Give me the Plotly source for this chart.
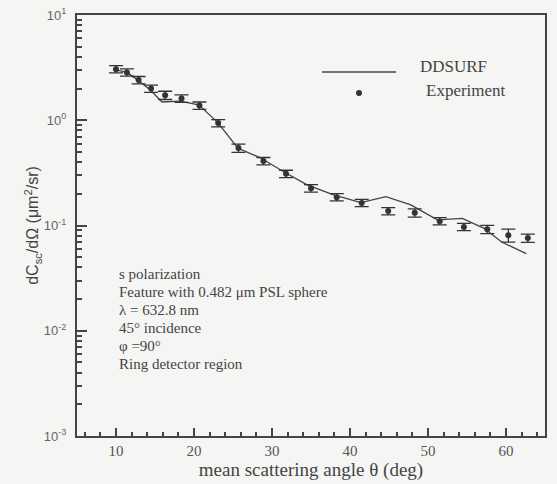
import plotly.graph_objects as go

# DDSURF model curve
theta_model = [9.6, 11.4, 12.8, 14.4, 15.9, 18.2, 20.6, 23.0, 25.6, 28.5, 31.5, 34.5,
               37.9, 41.4, 44.6, 47.8, 51.2, 54.4, 57.2, 59.4, 62.6]
dcs_model = [3.06, 2.85, 2.41, 1.94, 1.49, 1.52, 1.40, 0.96, 0.545, 0.44, 0.324, 0.243,
             0.195, 0.165, 0.188, 0.157, 0.113, 0.117, 0.094, 0.070, 0.054]

# Experiment
theta_exp = [10.0, 11.4, 12.9, 14.5, 16.3, 18.4, 20.7, 23.1, 25.7, 28.9, 31.8, 35.0,
             38.3, 41.5, 44.9, 48.3, 51.5, 54.6, 57.6, 60.3, 62.8]
dcs_exp = [3.06, 2.85, 2.41, 2.0, 1.73, 1.61, 1.38, 0.94, 0.545, 0.41, 0.31, 0.226,
           0.186, 0.164, 0.137, 0.132, 0.110, 0.097, 0.092, 0.081, 0.076]
err_pct = [8, 8, 8, 8, 9, 8, 8, 8, 9, 8, 8, 8, 8, 8, 8, 9, 8, 8, 9, 14, 9]

x_ticks = [10, 20, 30, 40, 50, 60]
y_tickvals = [0.001, 0.01, 0.1, 1, 10]
y_ticktext = ["10<sup>-3</sup>", "10<sup>-2</sup>", "10<sup>-1</sup>", "10<sup>0</sup>", "10<sup>1</sup>"]
y_minor = [m * d for d in [0.001, 0.01, 0.1, 1] for m in range(2, 10)]

info_lines = ["s polarization", "Feature with 0.482 μm PSL sphere", "λ = 632.8 nm",
              "45° incidence", "φ =90°", "Ring detector region"]

SERIF = "Liberation Serif, Times New Roman, serif"
SANS = "Liberation Sans, Arial, sans-serif"
INK = "#444444"
BG = "#f5f5f3"

fig = go.Figure()
fig.add_trace(go.Scatter(x=theta_model, y=dcs_model, mode="lines",
                         line=dict(color="#444444", width=1.3), name="DDSURF",
                         showlegend=False))
fig.add_trace(go.Scatter(x=theta_exp, y=dcs_exp, mode="markers",
                         marker=dict(color="#333333", size=6),
                         error_y=dict(type="data",
                                      array=[d * p / 100 for d, p in zip(dcs_exp, err_pct)],
                                      symmetric=True, visible=True,
                                      color="#333333", thickness=1.3, width=7),
                         name="Experiment", showlegend=False))

axis_common = dict(showline=True, linecolor=INK, linewidth=2, mirror=True,
                   showgrid=False, zeroline=False, ticks="inside", automargin=False,
                   tickcolor=INK)

fig.update_xaxes(range=[5, 65], tickvals=x_ticks, ticklen=8, tickwidth=1.5,
                 minor=dict(ticks="inside", dtick=2, tick0=0, ticklen=4, tickcolor=INK),
                 ticklabelstandoff=0,
                 tickfont=dict(family=SERIF, size=15, color="#555555"),
                 title=dict(text="mean scattering angle θ (deg)",
                            font=dict(family=SERIF, size=19, color=INK), standoff=0),
                 **axis_common)
fig.update_yaxes(type="log", range=[-3, 1], tickvals=y_tickvals, ticktext=y_ticktext,
                 ticklen=10, tickwidth=1.5,
                 minor=dict(ticks="inside", tickvals=y_minor, ticklen=5, tickcolor=INK),
                 ticklabelstandoff=6,
                 tickfont=dict(family=SANS, size=13, color="#666666"),
                 title=dict(text="dC<sub>sc</sub>/dΩ (μm<sup>2</sup>/sr)",
                            font=dict(family=SANS, size=16, color=INK), standoff=0),
                 **axis_common)

# Legend (drawn manually to match the original layout)
fig.add_shape(type="line", xref="paper", yref="paper", x0=0.5235, x1=0.6816,
              y0=0.8646, y1=0.8646, line=dict(color="#444444", width=1.3))
fig.add_annotation(xref="paper", yref="paper", x=0.728, y=0.8765, text="DDSURF",
                   showarrow=False, xanchor="left", yanchor="middle",
                   font=dict(family=SERIF, size=17, color=INK))
fig.add_shape(type="circle", xref="paper", yref="paper", x0=0.6026 - 0.0064, x1=0.6026 + 0.0064,
              y0=0.8147 - 0.0071, y1=0.8147 + 0.0071, fillcolor="#333333",
              line=dict(color="#333333", width=0))
fig.add_annotation(xref="paper", yref="paper", x=0.741, y=0.8195, text="Experiment",
                   showarrow=False, xanchor="left", yanchor="middle",
                   font=dict(family=SERIF, size=17, color=INK))

# Info text block
y_px = [273.7, 292.0, 310.0, 328.0, 346.0, 364.0]
for line, yp in zip(info_lines, y_px):
    fig.add_annotation(xref="paper", yref="paper", x=(117 - 77) / 468, y=1 - (yp - 15) / 421,
                       text=line, showarrow=False, xanchor="left", yanchor="middle",
                       font=dict(family=SERIF, size=15, color=INK))

fig.update_layout(width=557, height=484, margin=dict(l=77, r=12, t=15, b=48),
                  paper_bgcolor=BG, plot_bgcolor=BG, showlegend=False)

fig.write_html("out.html", config={"displayModeBar": False},
               post_script="document.body.style.margin='0';"
                           "document.body.style.overflow='hidden';"
                           "document.body.style.background='%s';" % BG)
